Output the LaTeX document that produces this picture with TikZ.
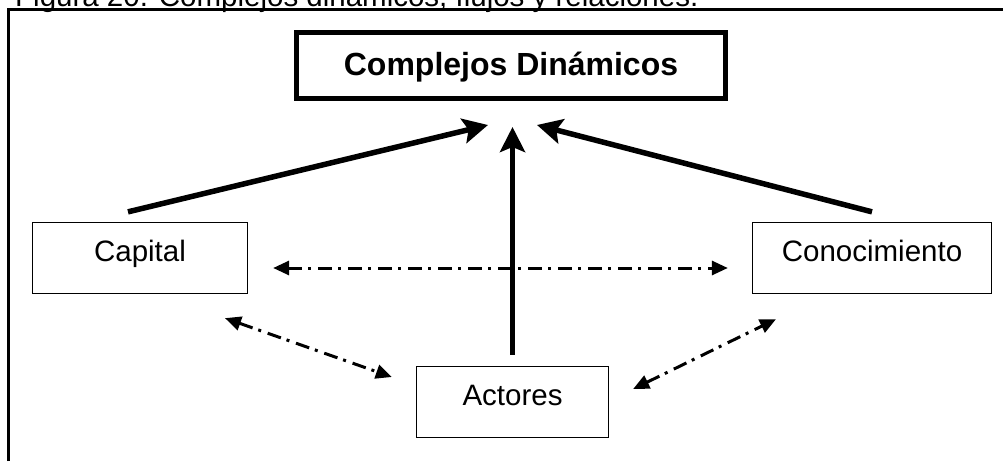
\documentclass[tikz,border=0pt]{standalone}
\usepackage{fontspec}
\setmainfont{Liberation Sans}
\usepackage{tikz}
\usetikzlibrary{arrows.meta}
\usetikzlibrary{calc}
\tikzset{box/.style = {draw, line width=1.3pt, inner sep=0pt,
                       minimum height=71pt, text height=21pt, text depth=15pt,
                       font=\fontsize{29.5}{34}\selectfont},
         mainbox/.style = {draw, line width=5pt, inner sep=0pt,
                           minimum width=429pt, minimum height=66pt,
                           text height=26pt, text depth=7pt,
                           font=\fontsize{32}{38}\selectfont\bfseries},
         flow/.style = {line width=5.5pt, -{Stealth[length=25pt, width=25pt, inset=5pt]}},
         link/.style = {line width=3pt, dash pattern=on 14pt off 6pt on 3pt off 7pt,
                        {Triangle[length=16pt, width=14pt]}-{Triangle[length=16pt, width=14pt]}}}

\begin{document}
\begin{tikzpicture}[x=1pt, y=-1pt]
    \useasboundingbox (0, 0) rectangle (1003, 461);
    \clip (0, 0) rectangle (1003, 461);

    \node [anchor=base west, inner sep=0pt, font=\fontsize{29.5}{34}\selectfont] (caption) at (15, 6)
        {Figura 20. Complejos dinámicos, flujos y relaciones.};
    \draw [line width=3pt] (8.5, 461) |- (1003, 9.5);

    \node [mainbox] (complejos) at (511, 65.5) {Complejos Dinámicos};
    \node [box, minimum width=215pt] (capital) at (140, 258) {Capital};
    \node [box, minimum width=239pt] (conocimiento) at (872, 258) {Conocimiento};
    \node [box, minimum width=192pt] (actores) at (512.5, 402) {Actores};

    \draw [flow] ($(capital.north) + (-12, -10)$) -- ($(complejos.south) + (-23, 24)$);
    \draw [flow] ($(actores.north) + (0, -11)$) -- ($(complejos.south) + (1.5, 26)$);
    \draw [flow] ($(conocimiento.north) + (0, -10)$) -- ($(complejos.south) + (26, 24)$);

    \draw [link] ($(capital.east) + (25, 10)$) -- ($(conocimiento.west) + (-24, 10)$);
    \draw [link] ($(capital.south) + (85, 24)$) -- ($(actores.west) + (-24, -25)$);
    \draw [link] ($(actores.east) + (24, -13)$) -- ($(conocimiento.south) + (-96, 25)$);
\end{tikzpicture}
\end{document}
